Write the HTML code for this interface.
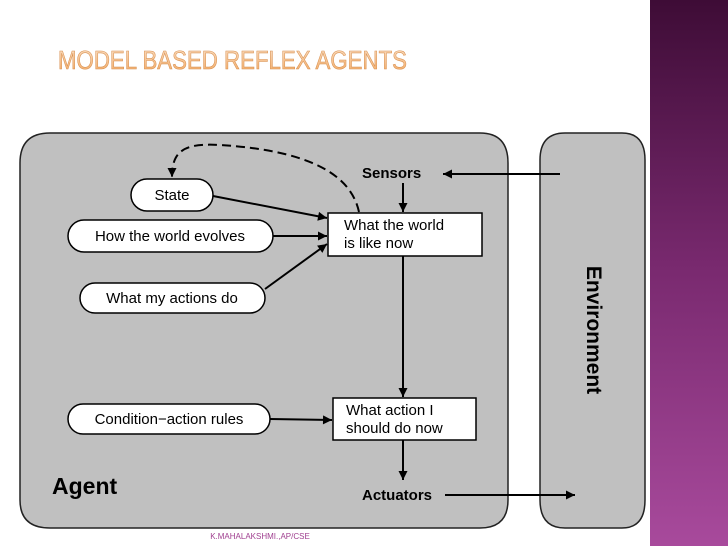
<!DOCTYPE html>
<html><head><style>
body{margin:0;width:728px;height:546px;overflow:hidden;background:#fff;font-family:"Liberation Sans",sans-serif}
</style></head><body>
<svg width="728" height="546" viewBox="0 0 728 546" xmlns="http://www.w3.org/2000/svg">
<defs>
<linearGradient id="pg" x1="0" y1="0" x2="0" y2="1">
<stop offset="0" stop-color="#3e0c36"/><stop offset="0.5" stop-color="#7a2a70"/><stop offset="1" stop-color="#a84a9c"/></linearGradient>
<linearGradient id="tg" x1="0" y1="0" x2="0" y2="1">
<stop offset="0" stop-color="#fbe3cc"/><stop offset="1" stop-color="#f2a860"/></linearGradient>
<marker id="b" viewBox="0 0 10 10" refX="10" refY="5" markerWidth="14" markerHeight="9" orient="auto" markerUnits="userSpaceOnUse"><path d="M0,0 L10,5 L0,10z" fill="#000"/></marker>
</defs>
<rect x="650" y="0" width="78" height="546" fill="url(#pg)"/>
<text x="58" y="69" font-size="26" fill="url(#tg)" stroke="#d89050" stroke-width="0.6" textLength="349" lengthAdjust="spacingAndGlyphs" font-family="Liberation Sans">MODEL BASED REFLEX AGENTS</text>
<path d="M50,133 H480 Q508,133 508,163 V500 Q508,528 480,528 H50 Q20,528 20,500 V163 Q20,133 50,133Z" fill="#c0c0c0" stroke="#222" stroke-width="1.5"/>
<path d="M565,133 H622 Q645,133 645,160 V500 Q645,528 622,528 H565 Q540,528 540,500 V160 Q540,133 565,133Z" fill="#c0c0c0" stroke="#222" stroke-width="1.5"/>
<g font-size="15" fill="#000">
<rect x="131" y="179" width="82" height="32" rx="16" fill="#fff" stroke="#000" stroke-width="1.5"/>
<text x="172" y="200" text-anchor="middle">State</text>
<rect x="68" y="220" width="205" height="32" rx="16" fill="#fff" stroke="#000" stroke-width="1.5"/>
<text x="170" y="241" text-anchor="middle">How the world evolves</text>
<rect x="80" y="283" width="185" height="30" rx="15" fill="#fff" stroke="#000" stroke-width="1.5"/>
<text x="172" y="303" text-anchor="middle">What my actions do</text>
<rect x="68" y="404" width="202" height="30" rx="15" fill="#fff" stroke="#000" stroke-width="1.5"/>
<text x="169" y="424" text-anchor="middle">Condition−action rules</text>
<rect x="328" y="213" width="154" height="43" fill="#fff" stroke="#000" stroke-width="1.5"/>
<text x="344" y="230">What the world</text><text x="344" y="248">is like now</text>
<rect x="333" y="398" width="143" height="42" fill="#fff" stroke="#000" stroke-width="1.5"/>
<text x="346" y="415">What action I</text><text x="346" y="433">should do now</text>
<text x="362" y="178" font-weight="bold">Sensors</text>
<text x="362" y="500" font-weight="bold">Actuators</text>
<text x="52" y="494" font-size="23" font-weight="bold">Agent</text>
<text transform="translate(587,330) rotate(90)" text-anchor="middle" font-size="21" font-weight="bold">Environment</text>
</g>
<g stroke="#000" stroke-width="2" fill="none">
<line x1="560" y1="174" x2="443" y2="174" marker-end="url(#b)"/>
<line x1="403" y1="183" x2="403" y2="212" marker-end="url(#b)"/>
<line x1="213" y1="196" x2="327" y2="218" marker-end="url(#b)"/>
<line x1="273" y1="236" x2="327" y2="236" marker-end="url(#b)"/>
<line x1="265" y1="289" x2="327" y2="244" marker-end="url(#b)"/>
<line x1="403" y1="256" x2="403" y2="397" marker-end="url(#b)"/>
<line x1="270" y1="419" x2="332" y2="420" marker-end="url(#b)"/>
<line x1="403" y1="440" x2="403" y2="480" marker-end="url(#b)"/>
<line x1="445" y1="495" x2="575" y2="495" marker-end="url(#b)"/>
<path d="M359,212 C350,170 300,150 220,145 C185,143 172,150 172,177" stroke-dasharray="9,5" marker-end="url(#b)"/>
</g>
<text x="260" y="539" text-anchor="middle" font-size="8" fill="#a04090">K.MAHALAKSHMI.,AP/CSE</text>
</svg>
</body></html>
